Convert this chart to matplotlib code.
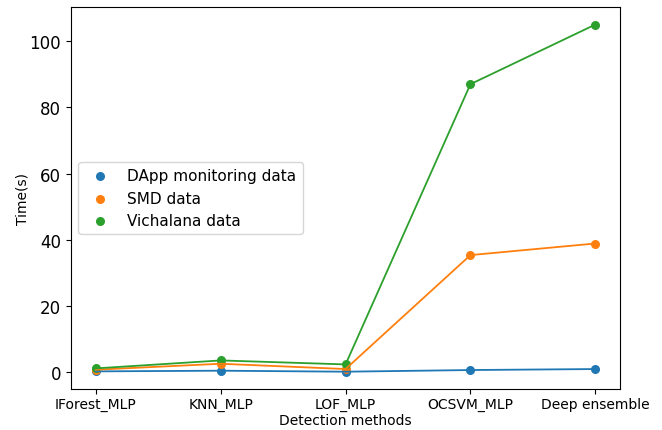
import matplotlib
matplotlib.use('Agg')
import matplotlib.pyplot as plt

# Detection methods on the x axis
methods = ['IForest_MLP', 'KNN_MLP', 'LOF_MLP', 'OCSVM_MLP', 'Deep ensemble']

# Run time in seconds for each dataset
dapp_times = [0.3, 0.5, 0.2, 0.7, 1.0]
smd_times = [0.8, 2.6, 1.0, 35.4, 38.9]
vichalana_times = [1.2, 3.6, 2.4, 87.0, 105.0]

series_labels = ['DApp monitoring data', 'SMD data', 'Vichalana data']

fig = plt.figure(figsize=(6.62, 4.31), dpi=100)
ax = fig.add_subplot(111)
fig.subplots_adjust(left=0.107, right=0.937, top=0.981, bottom=0.095)

x = list(range(len(methods)))
colors = ['tab:blue', 'tab:orange', 'tab:green']
for times, label, c in zip([dapp_times, smd_times, vichalana_times], series_labels, colors):
    ax.scatter(x, times, color=c, label=label, s=30)
    ax.plot(x, times, color=c, lw=1.3)

ax.set_xticks(x)
ax.set_xticklabels(methods, fontsize=10)
ax.tick_params(axis='x', pad=2)
ax.tick_params(axis='y', labelsize=12)
ax.set_xlabel('Detection methods', fontsize=10, labelpad=2)
ax.set_ylabel('Time(s)', fontsize=10, labelpad=0)
ax.legend(loc='center left', fontsize=11)

plt.savefig('out.png', dpi=100)
